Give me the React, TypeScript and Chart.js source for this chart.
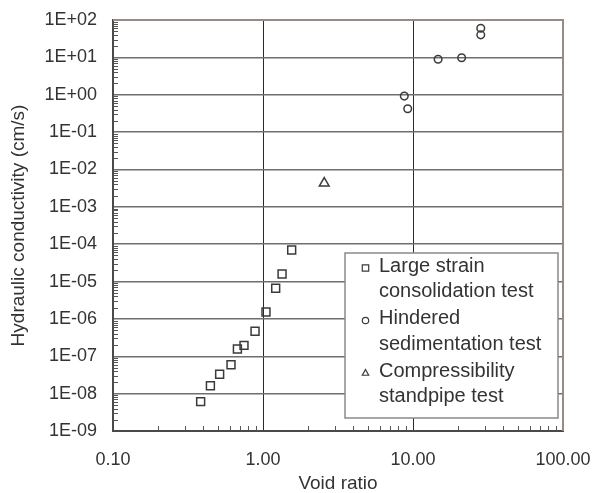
import React, { useEffect, useRef } from "react";
import { Chart, registerables } from "chart.js";

Chart.register(...registerables);

// Large strain consolidation test
const strainVoid = [0.384, 0.446, 0.514, 0.612, 0.675, 0.747, 0.885, 1.047, 1.215, 1.34, 1.553];
const strainK = [6.1e-9, 1.63e-8, 3.3e-8, 5.9e-8, 1.56e-7, 1.96e-7, 4.65e-7, 1.53e-6, 6.6e-6, 1.6e-5, 7.0e-5];

// Hindered sedimentation test
const sedVoid = [8.75, 9.22, 14.7, 21.1, 28.3, 28.3];
const sedK = [0.92, 0.42, 8.9, 9.8, 60, 40];

// Compressibility standpipe test
const standpipeVoid = [2.56];
const standpipeK = [4.3e-3];

const legendLines = [
  ["Large strain", "consolidation test"],
  ["Hindered", "sedimentation test"],
  ["Compressibility", "standpipe test"],
];
const legendShapes = ["rect", "circle", "triangle"];

const xTicks = [0.1, 1, 10, 100];
const yTicks = [1e-9, 1e-8, 1e-7, 1e-6, 1e-5, 1e-4, 1e-3, 1e-2, 1e-1, 1e0, 1e1, 1e2];

const xTitle = "Void ratio";
const yTitle = "Hydraulic conductivity (cm/s)";

const FONT = "'Liberation Sans', Arial, Helvetica, sans-serif";
const TICK_SIZE = 18;
const TITLE_SIZE = 19;
const LEGEND_SIZE = 20;
const TEXT = "#333333";
const MARK = "#3a3a3a";

const fmtX = (v: number) => v.toFixed(2);
const fmtY = (v: number) => {
  const e = Math.round(Math.log10(v));
  return `1E${e < 0 ? "-" : "+"}${String(Math.abs(e)).padStart(2, "0")}`;
};

const toPoints = (xs: number[], ys: number[]) => xs.map((x, i) => ({ x, y: ys[i] }));

function drawShape(ctx: CanvasRenderingContext2D, shape: string, x: number, y: number, r: number) {
  ctx.beginPath();
  if (shape === "rect") {
    ctx.rect(x - r, y - r, 2 * r, 2 * r);
  } else if (shape === "circle") {
    ctx.arc(x, y, r, 0, Math.PI * 2);
  } else {
    ctx.moveTo(x, y - r * 1.1);
    ctx.lineTo(x + r, y + r * 0.7);
    ctx.lineTo(x - r, y + r * 0.7);
    ctx.closePath();
  }
  ctx.stroke();
}

const framePlugin = {
  id: "frameAndLegend",
  afterDraw(chart: any) {
    const { ctx, chartArea } = chart;
    const { left, right, top, bottom } = chartArea;
    const xs = chart.scales.x;
    const ys = chart.scales.y;
    ctx.save();

    // minor ticks, pointing inward
    ctx.strokeStyle = "#555";
    ctx.lineWidth = 1;
    ctx.beginPath();
    for (let d = -1; d < 2; d++) {
      for (let m = 2; m <= 9; m++) {
        const px = Math.round(xs.getPixelForValue(m * Math.pow(10, d))) + 0.5;
        ctx.moveTo(px, bottom);
        ctx.lineTo(px, bottom - 5);
      }
    }
    for (let d = -9; d < 2; d++) {
      for (let m = 2; m <= 9; m++) {
        const py = Math.round(ys.getPixelForValue(m * Math.pow(10, d))) + 0.5;
        ctx.moveTo(left, py);
        ctx.lineTo(left + 5, py);
      }
    }
    ctx.stroke();

    // top and right frame
    ctx.strokeStyle = "#958b87";
    ctx.lineWidth = 2;
    ctx.beginPath();
    ctx.moveTo(left, top);
    ctx.lineTo(right, top);
    ctx.lineTo(right, bottom);
    ctx.stroke();

    // legend box
    const bx = 345, by = 253, bw = 213, bh = 165;
    ctx.fillStyle = "#ffffff";
    ctx.fillRect(bx, by, bw, bh);
    ctx.strokeStyle = "#8a8a8a";
    ctx.lineWidth = 1.5;
    ctx.strokeRect(bx, by, bw, bh);

    ctx.font = `${LEGEND_SIZE}px ${FONT}`;
    ctx.fillStyle = TEXT;
    ctx.textAlign = "left";
    ctx.textBaseline = "middle";
    const rowY = [266, 318.5, 371];
    legendLines.forEach((lines, i) => {
      ctx.strokeStyle = MARK;
      ctx.lineWidth = 1.2;
      drawShape(ctx, legendShapes[i], 365.5, rowY[i] + 2, 3.2);
      lines.forEach((t, j) => {
        ctx.fillText(t, 379, rowY[i] + j * 25.5);
      });
    });

    ctx.restore();
  },
};

export default function App() {
  const ref = useRef<HTMLCanvasElement | null>(null);

  useEffect(() => {
    if (!ref.current) return;
    Chart.defaults.font.family = FONT;
    Chart.defaults.font.size = TICK_SIZE;
    Chart.defaults.color = TEXT;

    const chart = new Chart(ref.current, {
      type: "scatter",
      data: {
        datasets: [
          {
            label: legendLines[0].join(" "),
            data: toPoints(strainVoid, strainK),
            pointStyle: "rect",
            pointRadius: 5.6,
            borderColor: MARK,
            backgroundColor: "rgba(0,0,0,0)",
            borderWidth: 1.5,
          },
          {
            label: legendLines[1].join(" "),
            data: toPoints(sedVoid, sedK),
            pointStyle: "circle",
            pointRadius: 3.8,
            borderColor: MARK,
            backgroundColor: "rgba(0,0,0,0)",
            borderWidth: 1.5,
          },
          {
            label: legendLines[2].join(" "),
            data: toPoints(standpipeVoid, standpipeK),
            pointStyle: "triangle",
            pointRadius: 5.6,
            borderColor: MARK,
            backgroundColor: "rgba(0,0,0,0)",
            borderWidth: 1.5,
          },
        ],
      },
      options: {
        animation: false,
        responsive: true,
        maintainAspectRatio: false,
        layout: { padding: { left: 0, top: 20, right: 29, bottom: 0 } },
        plugins: { legend: { display: false }, tooltip: { enabled: false } },
        scales: {
          x: {
            type: "logarithmic",
            min: 0.1,
            max: 100,
            afterBuildTicks: (axis: any) => {
              axis.ticks = xTicks.map((v) => ({ value: v }));
            },
            afterFit: (axis: any) => {
              axis.height = 62;
              axis.paddingLeft = 0;
              axis.paddingRight = 0;
            },
            ticks: {
              autoSkip: false,
              maxRotation: 0,
              padding: 18,
              color: TEXT,
              font: { size: TICK_SIZE },
              callback: (v: any) => fmtX(Number(v)),
            },
            grid: { color: "#2a2a2a", lineWidth: 1, drawTicks: false },
            border: { display: true, color: "#4a4a4a", width: 2 },
            title: {
              display: true,
              text: xTitle,
              color: TEXT,
              font: { size: TITLE_SIZE },
              padding: { top: 0, bottom: -2 },
            },
          },
          y: {
            type: "logarithmic",
            min: 1e-9,
            max: 100,
            afterBuildTicks: (axis: any) => {
              axis.ticks = yTicks.map((v) => ({ value: v }));
            },
            afterFit: (axis: any) => {
              axis.width = 113;
              axis.paddingTop = 0;
              axis.paddingBottom = 0;
            },
            ticks: {
              autoSkip: false,
              padding: 16,
              color: TEXT,
              font: { size: TICK_SIZE },
              callback: (v: any) => fmtY(Number(v)),
            },
            grid: { color: "#6f6f6f", lineWidth: 1.5, drawTicks: false },
            border: { display: true, color: "#4a4a4a", width: 2 },
            title: {
              display: true,
              text: yTitle,
              color: TEXT,
              font: { size: TITLE_SIZE },
              padding: { top: 7, bottom: 0 },
            },
          },
        },
      },
      plugins: [framePlugin],
    } as any);

    return () => chart.destroy();
  }, []);

  return (
    <div style={{ position: "fixed", left: 0, top: 0, width: 592, height: 493, background: "#fff" }}>
      <canvas ref={ref} />
    </div>
  );
}
